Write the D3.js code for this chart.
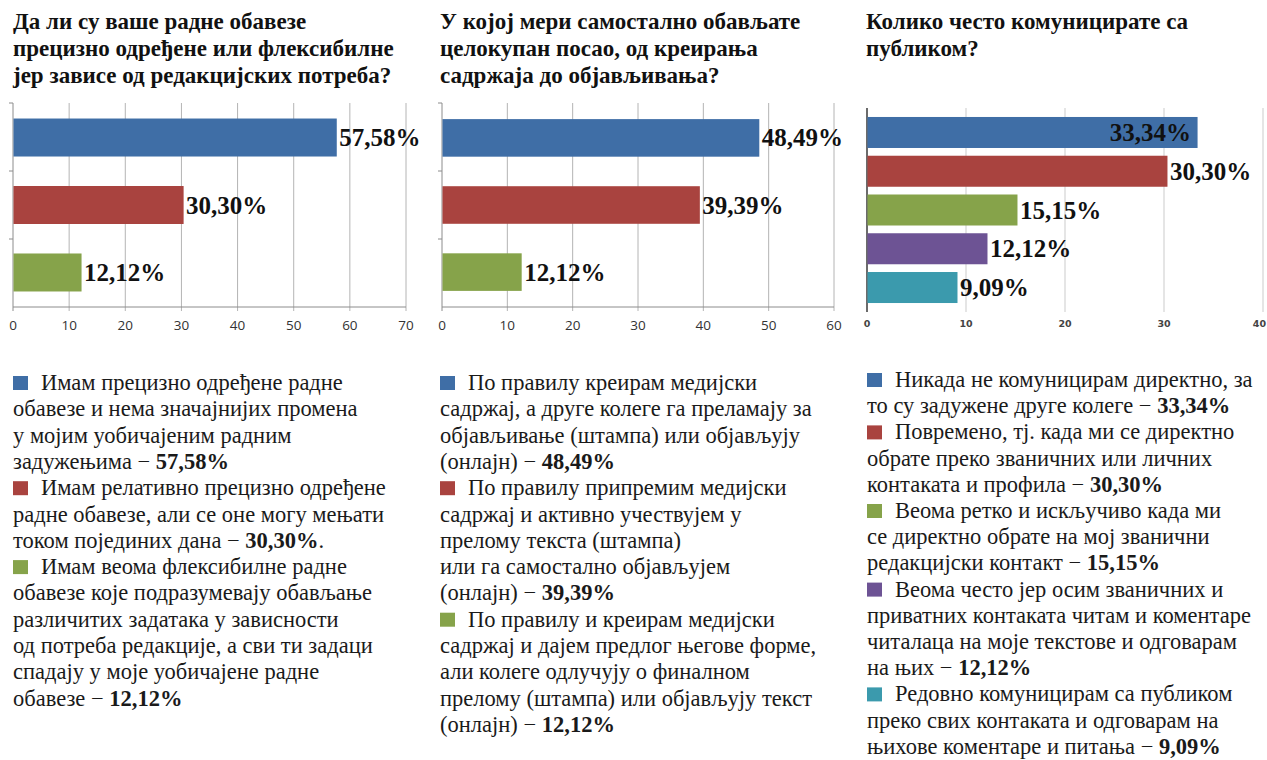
<!DOCTYPE html>
<html>
<head>
<meta charset="utf-8">
<script src="https://cdn.jsdelivr.net/npm/d3@7/dist/d3.min.js"></script>
<style>
  html, body { margin: 0; padding: 0; background: #ffffff; }
  svg { display: block; }
  .serif { font-family: "Liberation Serif", "Times New Roman", "DejaVu Serif", serif; }
  .office-tick { font-family: "Open Sans", "DejaVu Sans", sans-serif; }
  .plain-tick { font-family: "DejaVu Sans", sans-serif; }
</style>
</head>
<body>
<svg id="chart" width="1267" height="760"></svg>
<script>
// ---- Question 1: fixed vs flexible duties ----
const title1 = [
  "Да ли су ваше радне обавезе",
  "прецизно одређене или флексибилне",
  "јер зависе од редакцијских потреба?"
];
const values1 = [57.58, 30.30, 12.12];
const ticks1 = [0, 10, 20, 30, 40, 50, 60, 70];
const legend1 = [
  ["Имам прецизно одређене радне", "обавезе и нема значајнијих промена", "у мојим уобичајеним радним", "задужењима"],
  ["Имам релативно прецизно одређене", "радне обавезе, али се оне могу мењати", "током појединих дана"],
  ["Имам веома флексибилне радне", "обавезе које подразумевају обављање", "различитих задатака у зависности", "од потреба редакције, а сви ти задаци", "спадају у моје уобичајене радне", "обавезе"]
];
const legendEnd1 = ["", ".", ""];

// ---- Question 2: independence from creation to publishing ----
const title2 = [
  "У којој мери самостално обављате",
  "целокупан посао, од креирања",
  "садржаја до објављивања?"
];
const values2 = [48.49, 39.39, 12.12];
const ticks2 = [0, 10, 20, 30, 40, 50, 60];
const legend2 = [
  ["По правилу креирам медијски", "садржај, а друге колеге га преламају за", "објављивање (штампа) или објављују", "(онлајн)"],
  ["По правилу припремим медијски", "садржај и активно учествујем у", "прелому текста (штампа)", "или га самостално објављујем", "(онлајн)"],
  ["По правилу и креирам медијски", "садржај и дајем предлог његове форме,", "али колеге одлучују о финалном", "прелому (штампа) или објављују текст", "(онлајн)"]
];
const legendEnd2 = ["", "", ""];

// ---- Question 3: communication with the audience ----
const title3 = [
  "Колико често комуницирате са",
  "публиком?"
];
const values3 = [33.34, 30.30, 15.15, 12.12, 9.09];
const ticks3 = [0, 10, 20, 30, 40];
const legend3 = [
  ["Никада не комуницирам директно, за", "то су задужене друге колеге"],
  ["Повремено, тј. када ми се директно", "обрате преко званичних или личних", "контаката и профила"],
  ["Веома ретко и искључиво када ми", "се директно обрате на мој званични", "редакцијски контакт"],
  ["Веома често јер осим званичних и", "приватних контаката читам и коментаре", "читалаца на моје текстове и одговарам", "на њих"],
  ["Редовно комуницирам са публиком", "преко свих контаката и одговарам на", "њихове коментаре и питања"]
];
const legendEnd3 = ["", "", "", "", ""];

const seriesColors = ["#3f6ea6", "#a9433f", "#86a34a", "#6d5394", "#3b9aad"];

const fmtPct = v => v.toFixed(2).replace(".", ",") + "%";

const svg = d3.select("#chart");

const panels = [
  { title: title1, values: values1, ticks: ticks1, legend: legend1, legendEnd: legendEnd1,
    left: 13, xRange: [13, 406], yRange: [103, 307], padIn: 0.437, padOut: 0.23,
    tickClass: "office-tick", tickSize: 13.5, tickY: 330,
    style: "office", legendX: 13, legendY: 390, lineH: 26.3, insideFirst: false },
  { title: title2, values: values2, ticks: ticks2, legend: legend2, legendEnd: legendEnd2,
    left: 440, xRange: [442, 834], yRange: [103, 307], padIn: 0.44, padOut: 0.24,
    tickClass: "office-tick", tickSize: 13.5, tickY: 330,
    style: "office", legendX: 440, legendY: 390, lineH: 26.3, insideFirst: false },
  { title: title3, values: values3, ticks: ticks3, legend: legend3, legendEnd: legendEnd3,
    left: 866, xRange: [867, 1263], yRange: [110, 310], padIn: 0.2, padOut: 0.18,
    tickClass: "plain-tick", tickSize: 9.5, tickY: 327,
    style: "plain", legendX: 867, legendY: 387, lineH: 26.2, insideFirst: true }
];

panels.forEach(p => {
  const g = svg.append("g");

  // title
  const t = g.append("text").attr("class", "serif")
    .attr("x", p.left).attr("y", 29)
    .style("font-weight", "bold").style("font-size", "23px").attr("fill", "#111");
  p.title.forEach((line, i) => {
    t.append("tspan").attr("x", p.left).attr("dy", i === 0 ? 0 : 27).text(line);
  });

  const x = d3.scaleLinear().domain([p.ticks[0], p.ticks[p.ticks.length - 1]]).range(p.xRange);
  const y = d3.scaleBand().domain(d3.range(p.values.length)).range(p.yRange)
    .paddingInner(p.padIn).paddingOuter(p.padOut);

  const office = p.style === "office";
  const gridTop = office ? p.yRange[0] : p.yRange[0] - 2;
  const gridBottom = office ? p.yRange[1] : p.yRange[1] + 2;

  // vertical gridlines
  g.append("g").selectAll("line").data(p.ticks.slice(1)).join("line")
    .attr("x1", d => x(d)).attr("x2", d => x(d))
    .attr("y1", gridTop).attr("y2", gridBottom + (office ? 4 : 0))
    .attr("stroke", office ? "#b4b4b4" : "#dcdcdc")
    .attr("stroke-width", office ? 1 : 1.5);

  // bottom axis labels (the last label is kept inside the page edge)
  const lastTick = p.ticks[p.ticks.length - 1];
  g.append("g").selectAll("text").data(p.ticks).join("text")
    .attr("class", p.tickClass)
    .attr("x", d => (!office && d === lastTick) ? 1266 : x(d)).attr("y", p.tickY)
    .attr("text-anchor", d => (!office && d === lastTick) ? "end" : "middle")
    .style("font-size", p.tickSize + "px")
    .style("font-weight", office ? "normal" : "bold")
    .attr("fill", office ? "#333" : "#444")
    .text(d => d);

  if (office) {
    // bottom axis line with tick at origin
    g.append("line")
      .attr("x1", x(p.ticks[0])).attr("x2", x(lastTick))
      .attr("y1", p.yRange[1]).attr("y2", p.yRange[1])
      .attr("stroke", "#8c8c8c");
    g.append("line")
      .attr("x1", x(p.ticks[0])).attr("x2", x(p.ticks[0]))
      .attr("y1", p.yRange[1]).attr("y2", p.yRange[1] + 4)
      .attr("stroke", "#8c8c8c");
    // left axis line with category boundary ticks
    g.append("line")
      .attr("x1", x(0)).attr("x2", x(0))
      .attr("y1", p.yRange[0]).attr("y2", p.yRange[1])
      .attr("stroke", "#8c8c8c");
    const n = p.values.length;
    const bounds = d3.range(n).map(i => p.yRange[0] + (p.yRange[1] - p.yRange[0]) * i / n);
    g.append("g").selectAll("line").data(bounds).join("line")
      .attr("x1", x(0) - 4).attr("x2", x(0))
      .attr("y1", d => d).attr("y2", d => d)
      .attr("stroke", "#8c8c8c");
  } else {
    g.append("line")
      .attr("x1", x(0)).attr("x2", x(0))
      .attr("y1", gridTop).attr("y2", gridBottom)
      .attr("stroke", "#3a3a3a").attr("stroke-width", 1.5);
  }

  // bars
  g.append("g").selectAll("rect").data(p.values).join("rect")
    .attr("x", x(0) + 0.5)
    .attr("y", (d, i) => y(i))
    .attr("width", d => x(d) - x(0))
    .attr("height", y.bandwidth())
    .attr("fill", (d, i) => seriesColors[i]);

  // value labels
  g.append("g").selectAll("text").data(p.values).join("text")
    .attr("class", "serif")
    .attr("x", (d, i) => (p.insideFirst && i === 0) ? x(d) - 6 : x(d) + 3)
    .attr("y", (d, i) => y(i) + y.bandwidth() / 2)
    .attr("dy", "0.34em")
    .attr("text-anchor", (d, i) => (p.insideFirst && i === 0) ? "end" : "start")
    .style("font-weight", "bold").style("font-size", "25px").attr("fill", "#111")
    .text(d => fmtPct(d));

  // legend
  let row = 0;
  p.legend.forEach((lines, i) => {
    const baseY = p.legendY + row * p.lineH;
    g.append("rect")
      .attr("x", p.legendX).attr("y", baseY - 14)
      .attr("width", 15).attr("height", 14)
      .attr("fill", seriesColors[i]);
    lines.forEach((line, j) => {
      const ty = p.legendY + row * p.lineH;
      const txt = g.append("text").attr("class", "serif")
        .attr("x", j === 0 ? p.legendX + 28 : p.legendX)
        .attr("y", ty)
        .style("font-size", "22.5px").attr("fill", "#1a1a1a");
      txt.append("tspan").text(line);
      if (j === lines.length - 1) {
        txt.append("tspan").text(" − ");
        txt.append("tspan").style("font-weight", "bold").text(fmtPct(p.values[i]));
        if (p.legendEnd[i]) txt.append("tspan").text(p.legendEnd[i]);
      }
      row++;
    });
  });
});
</script>
</body>
</html>
